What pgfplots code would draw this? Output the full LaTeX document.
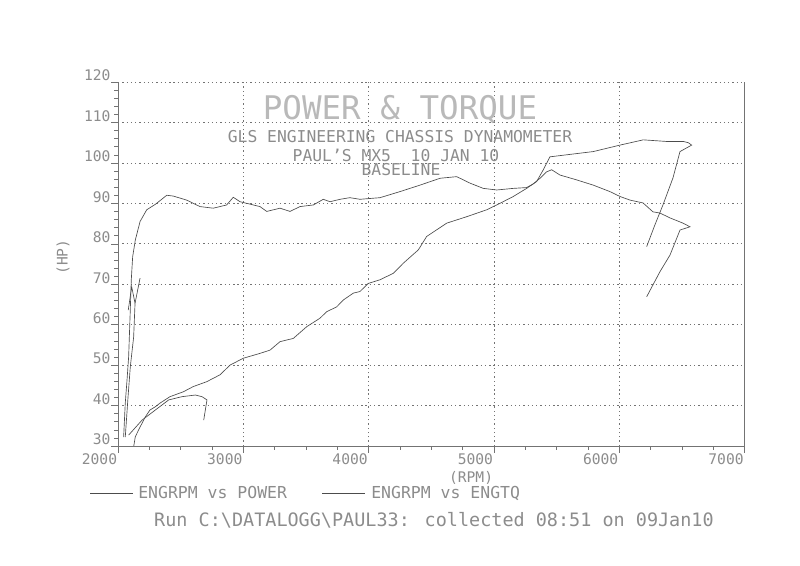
\documentclass[border=0pt]{standalone}
\usepackage{pgfplots}
\pgfplotsset{compat=1.18}
\usepackage{fontspec}
\setmainfont{DejaVu Sans Mono}
\setmonofont{DejaVu Sans Mono}
\definecolor{ink}{gray}{0.55}
\definecolor{pen}{gray}{0.3}
\definecolor{gridc}{gray}{0.45}

% torque (upper curve)
\pgfplotstableread{
rpm val
2045 32.2
2058 40.6
2072 46.3
2085 52.1
2098 63.6
2106 71.1
2117 76.8
2138 80.9
2176 85.5
2229 88.4
2300 89.8
2389 92.0
2441 91.8
2548 90.8
2654 89.2
2760 88.8
2867 89.6
2920 91.5
2974 90.4
3027 90.0
3133 89.2
3187 88.0
3293 88.8
3373 88.0
3452 89.2
3559 89.6
3638 91.0
3692 90.4
3772 91.0
3851 91.4
3931 91.0
4091 91.4
4250 92.9
4410 94.5
4570 96.2
4703 96.6
4809 95.0
4915 93.7
5022 93.3
5155 93.7
5261 93.9
5314 94.8
5368 96.2
5421 97.8
5461 98.3
5527 97.0
5660 95.8
5793 94.5
5926 92.9
6006 91.7
6086 90.8
6190 90.1
6269 87.9
6325 87.6
6405 86.4
6509 85.1
6565 84.2
6485 83.4
6405 77.2
6325 73.1
6219 66.9
}\torque

% power (rising curve)
\pgfplotstableread{
rpm val
2125 29.8
2138 32.3
2178 34.8
2218 37.2
2255 38.9
2298 39.7
2335 40.6
2415 42.2
2521 43.4
2601 44.7
2708 45.9
2814 47.6
2894 50.0
3000 51.7
3133 52.9
3213 53.7
3293 55.8
3399 56.6
3506 59.5
3612 61.6
3665 63.2
3745 64.4
3798 66.1
3878 67.8
3931 68.2
3997 70.2
4091 71.1
4197 72.7
4277 75.2
4397 78.5
4463 81.8
4623 85.1
4783 86.7
4942 88.4
5048 90.0
5155 91.7
5261 93.7
5341 95.4
5394 98.3
5447 101.5
5580 102.0
5793 102.8
6006 104.4
6192 105.7
6378 105.3
6511 105.3
6551 105.0
6578 104.4
6485 102.8
6429 96.3
6349 89.6
6285 84.7
6219 79.3
}\power

% stray bits at the start of the run
\pgfplotstableread{
rpm val
2085 32.7
2192 36.4
2298 38.9
2405 41.4
2511 42.2
2617 42.6
2670 42.2
2710 41.4
2697 38.9
2684 36.4
}\hook

\pgfplotstableread{
rpm val
2058 32.2
2080 42.1
2098 49.5
2125 57.0
2136 65.3
2176 71.5
}\zigA

\pgfplotstableread{
rpm val
2082 63.6
2109 69.4
2136 65.3
}\zigB

\begin{document}
\begin{tikzpicture}
\useasboundingbox (0,0) rectangle (600bp,424.5bp);
\begin{axis}[
  at={(88.5bp,90bp)}, anchor=south west,
  scale only axis, width=469.9bp, height=273bp,
  xmin=2000, xmax=7000, ymin=30, ymax=120,
  axis x line*=bottom, axis y line*=box, ytick pos=left,
  xtick={2000,3000,...,7000}, ytick={30,40,...,120},
  minor x tick num=3, minor y tick num=4,
  tick align=outside, major tick length=5bp, minor tick length=3bp,
  axis line style={draw=gridc, line width=0.5pt},
  tick style={draw=gridc, line width=0.4pt},
  grid=major,
  major grid style={draw=gridc, line width=0.5pt, dash pattern=on 1bp off 2.2bp},
  /pgf/number format/assume math mode=true,
  /pgf/number format/1000 sep={},
  ticklabel style={font=\fontsize{11}{12}\selectfont, text=ink},
  xticklabel style={anchor=north east, inner sep=0.5bp},
  yticklabel style={anchor=south east, inner sep=0.5bp},
  xlabel={(RPM)},
  xlabel style={at={(axis description cs:0.5635,-0.088)}, anchor=center,
    font=\fontsize{11}{12}\selectfont, text=ink},
  ylabel={(HP)},
  ylabel style={at={(axis description cs:-0.0878,0.519)}, anchor=center,
    font=\fontsize{11}{12}\selectfont, text=ink},
  every axis plot/.append style={draw=pen, line width=0.5pt},
]
\addplot[no marks] table[x=rpm,y=val] {\power};
\addplot[no marks] table[x=rpm,y=val] {\torque};
\addplot[no marks] table[x=rpm,y=val] {\hook};
\addplot[no marks] table[x=rpm,y=val] {\zigA};
\addplot[no marks] table[x=rpm,y=val] {\zigB};
\end{axis}

\begin{scope}[shift={(0bp,424.5bp)}, x=0.75bp, y=-0.75bp]
  \node[text=gray!55, font=\fontsize{24.5}{26}\selectfont] at (400,110) {POWER \& TORQUE};
  \node[text=ink, font=\fontsize{12.3}{13}\selectfont] at (400,137) {GLS ENGINEERING CHASSIS DYNAMOMETER};
  \node[text=ink, font=\fontsize{12.3}{13}\selectfont] at (396,155) {PAUL'S MX5\ \ 10 JAN 10};
  \node[text=ink, font=\fontsize{12.3}{13}\selectfont] at (401,170) {BASELINE};
  % legend
  \draw[pen, line width=0.5pt] (90,493) -- (133,493);
  \node[text=ink, anchor=west, inner sep=0pt, font=\fontsize{12.4}{13}\selectfont] at (138,493) {ENGRPM vs POWER};
  \draw[pen, line width=0.5pt] (322,493) -- (365,493);
  \node[text=ink, anchor=west, inner sep=0pt, font=\fontsize{12.4}{13}\selectfont] at (371,493) {ENGRPM vs ENGTQ};
  \node[text=ink, font=\fontsize{13.9}{15}\selectfont] at (434,520) {Run C:\textbackslash DATALOGG\textbackslash PAUL33: collected 08:51 on 09Jan10};
\end{scope}
\end{tikzpicture}
\end{document}
